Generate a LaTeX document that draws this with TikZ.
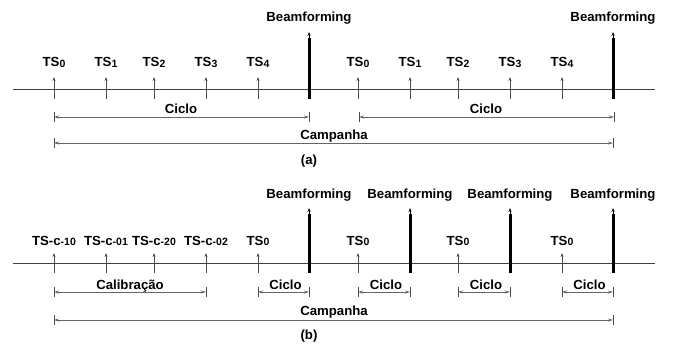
\documentclass[tikz,border=0pt]{standalone}
\usepackage{fontspec}
\setmainfont{Liberation Sans}
\usetikzlibrary{arrows.meta}
\newcommand{\mysub}[1]{\raisebox{-0.05ex}{\fontsize{10.5}{11}\selectfont #1}}
\tikzset{
  lbl/.style={font=\bfseries\fontsize{13.2}{15}\selectfont, anchor=base, inner sep=0pt, text=black},
  axis/.style={draw=black!75, line width=0.8pt},
  tickarrow/.style={draw=black!70, line width=0.6pt, -{Stealth[length=4pt,width=3pt]}},
  bar/.style={draw=black, line width=3pt},
  bartip/.style={draw=black, line width=0.6pt, -{Stealth[length=4pt,width=3pt]}},
  dim/.style={draw=black!60, line width=0.8pt, {Stealth[length=5pt,width=3pt]}-{Stealth[length=5pt,width=3pt]}},
  dimend/.style={draw=black!70, line width=0.8pt},
}
\begin{document}
\begin{tikzpicture}[x=1pt,y=-1pt]
\useasboundingbox (0,0) rectangle (684,347);
% ---------------- (a) ----------------
\coordinate (aL) at (13,89);
\coordinate (aR) at (655,89);
\draw[axis] (aL) -- (aR);
% ticks
\foreach \n/\x/\s in {0/54/0,1/106/1,2/154/2,3/206/3,4/258/4,5/358/0,6/410/1,7/458/2,8/510/3,9/562/4}{
  \coordinate (ab\n) at (\x,99);
  \coordinate (at\n) at (\x,77);
  \draw[tickarrow] (ab\n) -- (at\n);
  \node[lbl] (al\n) at (\x,67) {TS\mysub{\s}};
}
% beamforming bars
\foreach \n/\x in {1/309,2/613}{
  \coordinate (abb\n) at (\x,99);
  \coordinate (abt\n) at (\x,38);
  \coordinate (aba\n) at (\x,32);
  \draw[bar] (abb\n) -- (abt\n);
  \draw[bartip] (abt\n) -- (aba\n);
  \node[lbl] (abl\n) at (\x,22) {Beamforming};
}
% Ciclo dims
\coordinate (ac1a) at (54,117); \coordinate (ac1b) at (309,117);
\coordinate (ac2a) at (359,117); \coordinate (ac2b) at (614,117);
\draw[dim] (ac1a) -- (ac1b);
\draw[dim] (ac2a) -- (ac2b);
\foreach \c in {ac1a,ac1b,ac2a,ac2b}{\draw[dimend] (\c) ++(0,-5) -- ++(0,10);}
\node[lbl] (acl1) at (181,114) {Ciclo};
\node[lbl] (acl2) at (486,114) {Ciclo};
% Campanha
\coordinate (acpa) at (54,143); \coordinate (acpb) at (613,143);
\draw[dim] (acpa) -- (acpb);
\foreach \c in {acpa,acpb}{\draw[dimend] (\c) ++(0,-5) -- ++(0,10);}
\node[lbl] (acpl) at (334,140) {Campanha};
\node[lbl] (acap) at (309,165) {(a)};
% ---------------- (b) ----------------
\coordinate (bL) at (13,263);
\coordinate (bR) at (655,263);
\draw[axis] (bL) -- (bR);
\foreach \n/\x/\t in {0/54/{TS-c\mysub{-10}},1/106/{TS-c\mysub{-01}},2/154/{TS-c\mysub{-20}},3/206/{TS-c\mysub{-02}},4/258/{TS\mysub{0}},5/358/{TS\mysub{0}},6/458/{TS\mysub{0}},7/562/{TS\mysub{0}}}{
  \coordinate (bb\n) at (\x,273);
  \coordinate (bt\n) at (\x,253);
  \draw[tickarrow] (bb\n) -- (bt\n);
  \node[lbl] (bl\n) at (\x,245) {\t};
}
\foreach \n/\x in {1/309,2/410,3/510,4/613}{
  \coordinate (bbb\n) at (\x,273);
  \coordinate (bbt\n) at (\x,214);
  \coordinate (bba\n) at (\x,208);
  \draw[bar] (bbb\n) -- (bbt\n);
  \draw[bartip] (bbt\n) -- (bba\n);
  \node[lbl] (bbl\n) at (\x,198) {Beamforming};
}
% Calibracao
\coordinate (bka) at (54,292); \coordinate (bkb) at (206,292);
\draw[dim] (bka) -- (bkb);
\foreach \c in {bka,bkb}{\draw[dimend] (\c) ++(0,-5) -- ++(0,10);}
\node[lbl] (bkl) at (130,289) {Calibração};
% Ciclos
\foreach \n/\a/\b in {1/258/309,2/358/410,3/458/510,4/562/613}{
  \coordinate (bc\n a) at (\a,292); \coordinate (bc\n b) at (\b,292);
  \draw[dim] (bc\n a) -- (bc\n b);
  \draw[dimend] (bc\n a) ++(0,-5) -- ++(0,10);
  \draw[dimend] (bc\n b) ++(0,-5) -- ++(0,10);
  \node[lbl] (bcl\n) at ({(\a+\b)/2+2},289) {Ciclo};
}
% Campanha
\coordinate (bcpa) at (54,320); \coordinate (bcpb) at (613,320);
\draw[dim] (bcpa) -- (bcpb);
\foreach \c in {bcpa,bcpb}{\draw[dimend] (\c) ++(0,-5) -- ++(0,10);}
\node[lbl] (bcpl) at (334,315) {Campanha};
\node[lbl] (bcap) at (309,339) {(b)};
\end{tikzpicture}
\end{document}
